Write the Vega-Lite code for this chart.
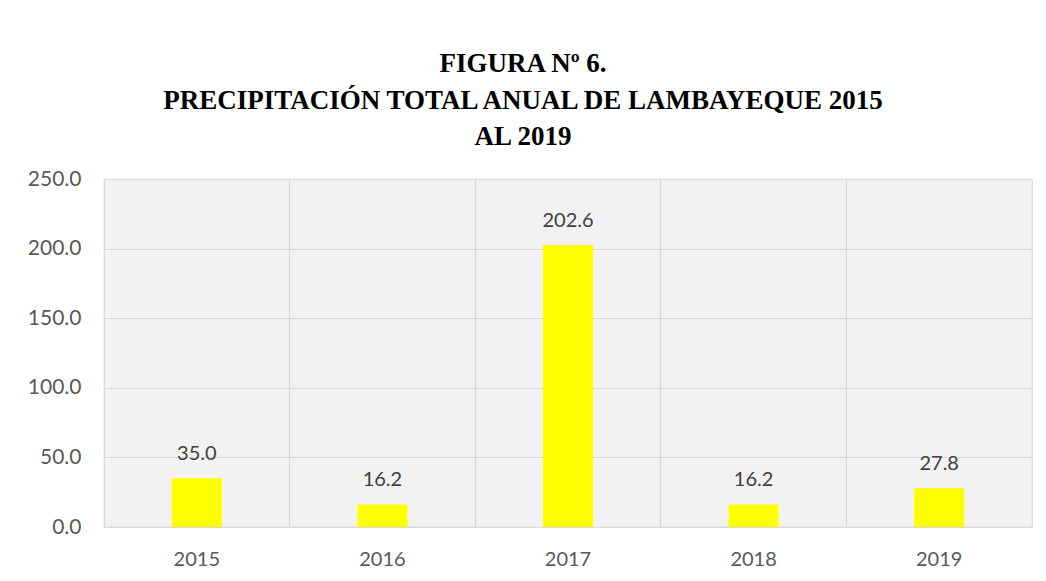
{
  "$schema": "https://vega.github.io/schema/vega-lite/v6.json",
  "autosize": {"type": "none"},
  "width": 928,
  "height": 348,
  "padding": {"left": 104, "top": 179, "right": 14, "bottom": 54},
  "background": "#ffffff",
  "title": {
    "text": ["FIGURA Nº 6.", "PRECIPITACIÓN TOTAL ANUAL DE LAMBAYEQUE 2015", "AL 2019"],
    "font": "Liberation Serif",
    "fontSize": 27,
    "fontWeight": "bold",
    "color": "#000000",
    "lineHeight": 36.5,
    "anchor": "middle",
    "dx": -45,
    "offset": 17
  },
  "data": {
    "values": [
      {"year": "2015", "value": 35.0},
      {"year": "2016", "value": 16.2},
      {"year": "2017", "value": 202.6},
      {"year": "2018", "value": 16.2},
      {"year": "2019", "value": 27.8}
    ]
  },
  "encoding": {
    "x": {
      "field": "year",
      "type": "ordinal",
      "scale": {"paddingInner": 0, "paddingOuter": 0},
      "axis": {
        "title": null,
        "labelAngle": 0,
        "ticks": false,
        "domain": false,
        "grid": true,
        "bandPosition": 0,
        "gridColor": "#d9d9d9",
        "gridWidth": 1.2,
        "labelFont": "Lato",
        "labelFontSize": 20,
        "labelColor": "#595959",
        "labelPadding": 22
      }
    },
    "y": {
      "field": "value",
      "type": "quantitative",
      "scale": {"domain": [0, 250], "nice": false},
      "axis": {
        "title": null,
        "values": [0, 50, 100, 150, 200, 250],
        "format": ".1f",
        "ticks": false,
        "domain": false,
        "grid": true,
        "gridColor": "#d9d9d9",
        "gridWidth": 1.2,
        "labelFont": "Lato",
        "labelFontSize": 21,
        "labelColor": "#595959",
        "labelPadding": 23
      }
    }
  },
  "layer": [
    {
      "mark": {"type": "bar", "color": "#ffff00", "width": {"band": 0.27}}
    },
    {
      "mark": {"type": "text", "baseline": "alphabetic", "dy": -18, "font": "Lato", "fontSize": 20, "color": "#404040"},
      "encoding": {"text": {"field": "value", "type": "quantitative", "format": ".1f"}}
    }
  ],
  "config": {
    "view": {"stroke": "#d9d9d9", "strokeWidth": 1.2, "fill": "#f2f2f2"}
  }
}
